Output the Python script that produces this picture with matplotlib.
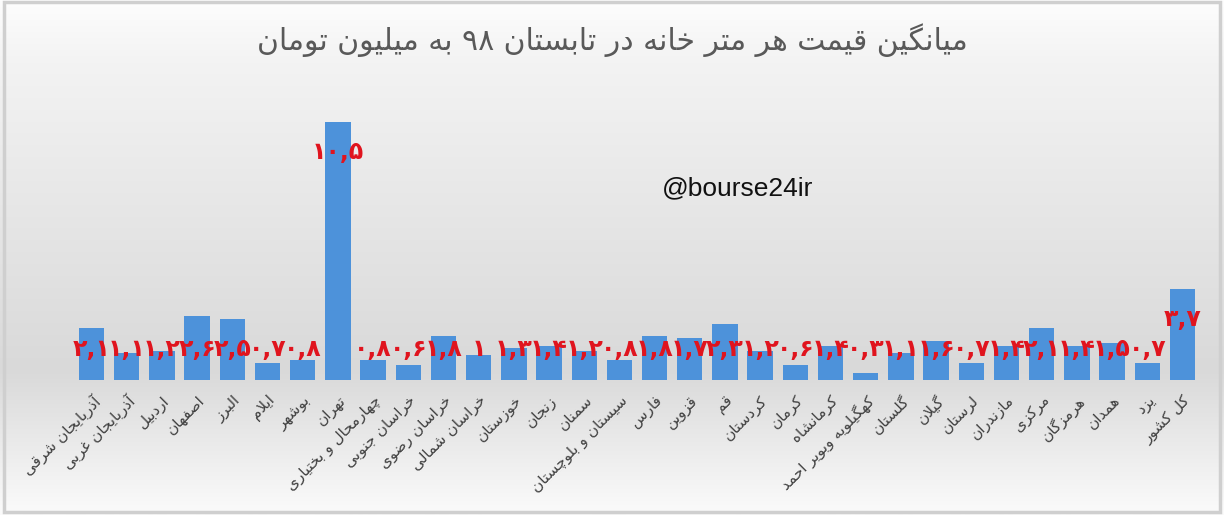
import numpy as np
import matplotlib.pyplot as plt
from matplotlib.colors import LinearSegmentedColormap
from matplotlib.patches import Rectangle

# Provinces (Persian), last one is the national average
provinces = [
    "آذربایجان شرقی", "آذربایجان غربی", "اردبیل", "اصفهان", "البرز", "ایلام",
    "بوشهر", "تهران", "چهارمحال و بختیاری", "خراسان جنوبی", "خراسان رضوی",
    "خراسان شمالی", "خوزستان", "زنجان", "سمنان", "سیستان و بلوچستان", "فارس",
    "قزوین", "قم", "کردستان", "کرمان", "کرمانشاه", "کهگیلویه وبویر احمد",
    "گلستان", "گیلان", "لرستان", "مازندران", "مرکزی", "هرمزگان", "همدان",
    "یزد", "کل کشور",
]
price = [
    2.1, 1.1, 1.2, 2.6, 2.5, 0.7, 0.8, 10.5, 0.8, 0.6, 1.8, 1.0, 1.3, 1.4,
    1.2, 0.8, 1.8, 1.7, 2.3, 1.2, 0.6, 1.4, 0.3, 1.1, 1.6, 0.7, 1.4, 2.1,
    1.4, 1.5, 0.7, 3.7,
]
title = "میانگین قیمت هر متر خانه در تابستان ۹۸ به میلیون تومان"
watermark = "@bourse24ir"

# --- minimal Persian shaping (matplotlib has no complex text layout) ---
# letter: (isolated, final, initial, medial); None initial => right-joining only
FORMS = {
    "ا": (0xFE8D, 0xFE8E, None, None), "آ": (0xFE81, 0xFE82, None, None),
    "ب": (0xFE8F, 0xFE90, 0xFE91, 0xFE92), "پ": (0xFB56, 0xFB57, 0xFB58, 0xFB59),
    "ت": (0xFE95, 0xFE96, 0xFE97, 0xFE98), "ث": (0xFE99, 0xFE9A, 0xFE9B, 0xFE9C),
    "ج": (0xFE9D, 0xFE9E, 0xFE9F, 0xFEA0), "چ": (0xFB7A, 0xFB7B, 0xFB7C, 0xFB7D),
    "ح": (0xFEA1, 0xFEA2, 0xFEA3, 0xFEA4), "خ": (0xFEA5, 0xFEA6, 0xFEA7, 0xFEA8),
    "د": (0xFEA9, 0xFEAA, None, None), "ذ": (0xFEAB, 0xFEAC, None, None),
    "ر": (0xFEAD, 0xFEAE, None, None), "ز": (0xFEAF, 0xFEB0, None, None),
    "ژ": (0xFB8A, 0xFB8B, None, None),
    "س": (0xFEB1, 0xFEB2, 0xFEB3, 0xFEB4), "ش": (0xFEB5, 0xFEB6, 0xFEB7, 0xFEB8),
    "ص": (0xFEB9, 0xFEBA, 0xFEBB, 0xFEBC), "ض": (0xFEBD, 0xFEBE, 0xFEBF, 0xFEC0),
    "ط": (0xFEC1, 0xFEC2, 0xFEC3, 0xFEC4), "ظ": (0xFEC5, 0xFEC6, 0xFEC7, 0xFEC8),
    "ع": (0xFEC9, 0xFECA, 0xFECB, 0xFECC), "غ": (0xFECD, 0xFECE, 0xFECF, 0xFED0),
    "ف": (0xFED1, 0xFED2, 0xFED3, 0xFED4), "ق": (0xFED5, 0xFED6, 0xFED7, 0xFED8),
    "ک": (0xFB8E, 0xFB8F, 0xFB90, 0xFB91), "گ": (0xFB92, 0xFB93, 0xFB94, 0xFB95),
    "ل": (0xFEDD, 0xFEDE, 0xFEDF, 0xFEE0), "م": (0xFEE1, 0xFEE2, 0xFEE3, 0xFEE4),
    "ن": (0xFEE5, 0xFEE6, 0xFEE7, 0xFEE8), "ه": (0xFEE9, 0xFEEA, 0xFEEB, 0xFEEC),
    "و": (0xFEED, 0xFEEE, None, None), "ی": (0xFBFC, 0xFBFD, 0xFBFE, 0xFBFF),
}
DIGITS = set("۰۱۲۳۴۵۶۷۸۹0123456789,.")


def shape(text):
    chars = list(text)
    out = []
    i = 0
    while i < len(chars):
        c = chars[i]
        if c not in FORMS:
            out.append(c)
            i += 1
            continue
        prev = chars[i - 1] if i > 0 else None
        joins_prev = prev in FORMS and FORMS[prev][2] is not None
        # lam-alef ligature
        if c == "ل" and i + 1 < len(chars) and chars[i + 1] == "ا":
            out.append(chr(0xFEFC if joins_prev else 0xFEFB))
            i += 2
            continue
        nxt = chars[i + 1] if i + 1 < len(chars) else None
        joins_next = FORMS[c][2] is not None and nxt in FORMS
        iso, fin, ini, med = FORMS[c]
        if joins_prev and joins_next:
            code = med
        elif joins_prev:
            code = fin
        elif joins_next:
            code = ini
        else:
            code = iso
        out.append(chr(code))
        i += 1
    # visual order: reverse, but keep digit runs left-to-right
    tokens, cur, is_dig = [], "", None
    for ch in out:
        d = ch in DIGITS
        if cur and d != is_dig:
            tokens.append(cur if is_dig else cur[::-1])
            cur = ""
        cur += ch
        is_dig = d
    if cur:
        tokens.append(cur if is_dig else cur[::-1])
    return "".join(tokens[::-1])


def fa_num(v):
    s = f"{v:g}".replace(".", ",")
    return s.translate(str.maketrans("0123456789", "۰۱۲۳۴۵۶۷۸۹"))


plt.rcParams["font.family"] = ["DejaVu Sans"]

fig = plt.figure(figsize=(12.24, 5.15), dpi=100)

# background gradient: white -> gray (around the bar baseline) -> white
bg = fig.add_axes([0, 0, 1, 1], zorder=-10)
cmap = LinearSegmentedColormap.from_list(
    "bg", [(0, "#fdfdfd"), (0.12, "#f3f3f3"), (0.72, "#d9d9d9"), (1, "#fbfbfb")])
bg.imshow(np.linspace(0, 1, 256).reshape(-1, 1), aspect="auto", cmap=cmap,
          extent=[0, 1, 0, 1], origin="upper")
bg.add_patch(Rectangle((0.003, 0.006), 0.994, 0.99, fill=False,
                       edgecolor="#cfcfcf", linewidth=2.5, transform=bg.transAxes))
bg.set_xlim(0, 1)
bg.set_ylim(0, 1)
bg.axis("off")

ax = fig.add_axes([74 / 1224, 1 - 380 / 515, 1126 / 1224, 280 / 515])
ax.patch.set_alpha(0)
x = np.arange(len(price))
ax.bar(x, price, width=0.72, color="#4d92da", zorder=3)
# soft shadow under the bars
ax.bar(x, [0.12] * len(price), bottom=-0.12, width=0.9, color="#c4c4c4",
       alpha=0.6, zorder=2)

ax.set_xlim(-0.5, len(price) - 0.5)
ax.set_ylim(0, 11.4)
for s in ax.spines.values():
    s.set_visible(False)
ax.set_yticks([])
ax.set_xticks(x)
ax.set_xticklabels([shape(p) for p in provinces], rotation=45, ha="right",
                   rotation_mode="anchor", fontsize=11, color="#404040")
ax.tick_params(axis="x", length=0, pad=9)

for xi, v in zip(x, price):
    ly = v - 1.2 if v > 3 else 1.25
    ax.text(xi, ly, fa_num(v), ha="center", va="center", fontsize=17,
            fontweight="bold", color="#e0141e", zorder=5)

fig.text(0.5, 1 - 40 / 515, shape(title), ha="center", va="center",
         fontsize=21.5, color="#595959")
fig.text(738 / 1224, 1 - 188 / 515, watermark, ha="center", va="center",
         fontsize=19, color="#111111", family=["Liberation Sans", "DejaVu Sans"])

fig.savefig("out.png", dpi=100)
